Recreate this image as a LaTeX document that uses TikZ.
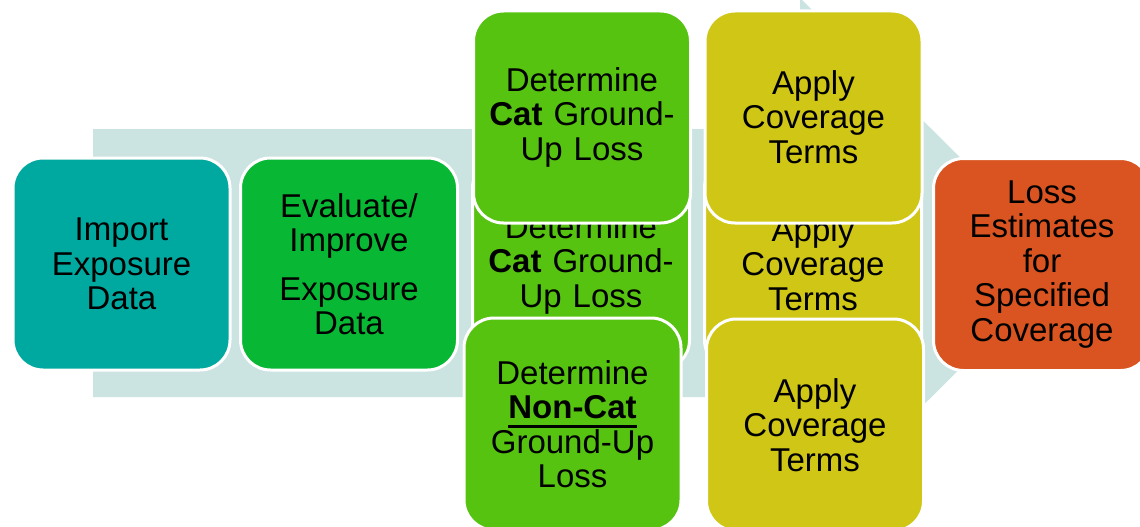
\documentclass[tikz,border=0pt]{standalone}
\usepackage{fontspec}
\setmainfont{Liberation Sans}
\definecolor{arrowbg}{RGB}{203,227,225}
\definecolor{tealbox}{RGB}{0,169,159}
\definecolor{greenA}{RGB}{8,184,52}
\definecolor{greenB}{RGB}{86,195,16}
\definecolor{yellowbox}{RGB}{208,198,21}
\definecolor{orangebox}{RGB}{217,84,32}
\newcommand{\thickul}[1]{\leavevmode\setbox0\hbox{#1}\rlap{\rule[-9pt]{\wd0}{3pt}}\box0}
\tikzset{
  stage/.style={draw=white, line width=3pt, rounded corners=30pt,
    minimum width=217pt, minimum height=212pt, inner sep=0pt,
    text width=210pt, align=center, text=black,
    font=\fontsize{33}{34.5}\selectfont},
}
\begin{document}
\begin{tikzpicture}[x=1pt,y=-1pt]
\useasboundingbox (0,0) rectangle (1140,527);
\clip (0,0) rectangle (1140,527);
\fill[arrowbg] (93,129) -- (800,129) -- (800,-2) -- (1066,263) -- (800,528) -- (800,397) -- (93,397) -- cycle;
\node[stage, fill=tealbox] (imp) at (121.5,264) {Import\\Exposure\\Data};
\node[stage, fill=greenA] (eval) at (349,264) {Evaluate/\\Improve\\[14pt]Exposure\\Data};
\node[stage, fill=greenB] (cat2) at (581,264) {Determine\\\textbf{Cat} Ground-\\Up Loss};
\node[stage, fill=yellowbox] (app2) at (813,264) {Apply\\Coverage\\Terms};
\node[stage, fill=greenB] (cat1) at (582,117) {Determine\\\textbf{Cat} Ground-\\Up Loss};
\node[stage, fill=yellowbox] (app1) at (813.5,117) {Apply\\Coverage\\Terms};
\node[stage, fill=greenB] (noncat) at (572.5,424) {Determine\\\thickul{\textbf{Non-Cat}}\\Ground-Up\\Loss};
\node[stage, fill=yellowbox] (app3) at (815,425) {Apply\\Coverage\\Terms};
\node[stage, fill=orangebox] (loss) at (1042,264.5) {Loss\\Estimates\\for\\Specified\\Coverage};
\end{tikzpicture}
\end{document}
